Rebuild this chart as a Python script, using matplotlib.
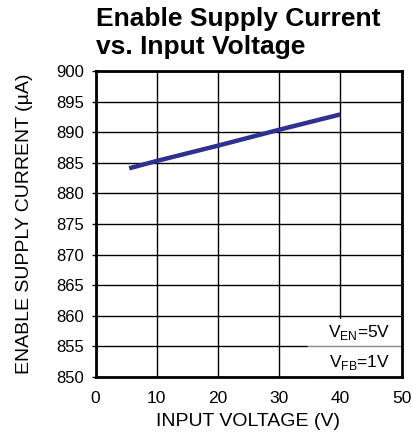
import matplotlib.pyplot as plt

# data
vin = [5.5, 10, 20, 30, 40]
i_en = [884.1, 885.3, 887.8, 890.4, 892.9]
x_ticks = [0, 10, 20, 30, 40, 50]
y_ticks = [850, 855, 860, 865, 870, 875, 880, 885, 890, 895, 900]

plt.rcParams['font.family'] = ['Liberation Sans', 'DejaVu Sans']

fig = plt.figure(figsize=(4.12, 4.34), dpi=100)
ax = fig.add_axes([95.5 / 412, 1 - 377 / 434, 306 / 412, 306 / 434])

ax.set_xlim(0, 50)
ax.set_ylim(850, 900)
ax.set_xticks(x_ticks)
ax.set_yticks(y_ticks)
ax.grid(True, color='black', lw=1.0)
ax.set_axisbelow(True)
for s in ax.spines.values():
    s.set_linewidth(2.0)
ax.tick_params(axis='y', length=3, width=1, labelsize=12, pad=5)
ax.tick_params(axis='x', length=0, labelsize=12.5, pad=10)

ax.plot(vin, i_en, color='#2e3192', lw=3.2, solid_capstyle='butt', zorder=3)

# condition box, lower right
ax.fill_between([34.8, 50], 850, 859.5, color='white', zorder=2)
ax.plot([34.8, 49.7], [855, 855], color='#888888', lw=1.0, zorder=2)
ax.text(48.2, 857.2, r'V$_{\mathregular{EN}}$=5V', ha='right', va='center', fontsize=12.5, zorder=4)
ax.text(48.2, 852.4, r'V$_{\mathregular{FB}}$=1V', ha='right', va='center', fontsize=12.5, zorder=4)

ax.set_xlabel('INPUT VOLTAGE (V)', fontsize=14, labelpad=5)
ax.set_ylabel('ENABLE SUPPLY CURRENT (µA)', fontsize=14, labelpad=17)

fig.text(96 / 412, 1 - 7 / 434, 'Enable Supply Current\nvs. Input Voltage', ha='left', va='top',
         fontsize=19, fontweight='bold', linespacing=1.2)

fig.savefig('out.png', dpi=100)
